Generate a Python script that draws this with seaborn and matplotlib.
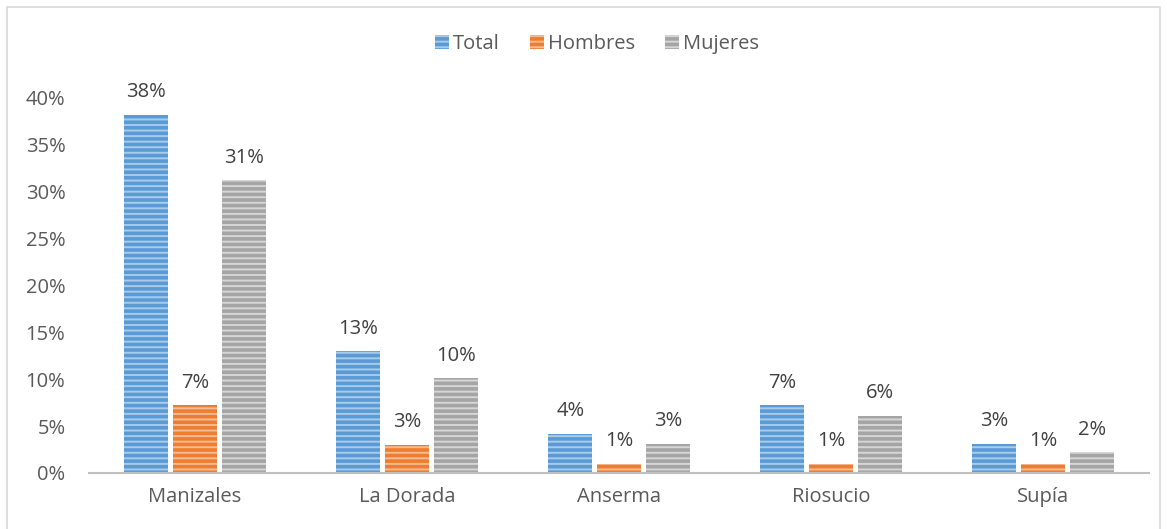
import matplotlib
matplotlib.use("Agg")
import matplotlib.pyplot as plt
import seaborn as sns
import pandas as pd
from matplotlib.patches import Rectangle, Patch

categories = ["Manizales", "La Dorada", "Anserma", "Riosucio", "Supía"]
series = ["Total", "Hombres", "Mujeres"]
total = [38.2, 13.0, 4.2, 7.2, 3.1]
hombres = [7.2, 3.0, 1.0, 1.0, 1.0]
mujeres = [31.2, 10.1, 3.1, 6.1, 2.2]
labels_total = ["38%", "13%", "4%", "7%", "3%"]
labels_hombres = ["7%", "3%", "1%", "1%", "1%"]
labels_mujeres = ["31%", "10%", "3%", "6%", "2%"]
yticks = [0, 5, 10, 15, 20, 25, 30, 35, 40]

colors = ["#5B9BD5", "#ED7D31", "#A5A5A5"]
light = ["#A9CBEA", "#F6BC95", "#D6D6D6"]

rows = []
for s, vals in zip(series, [total, hombres, mujeres]):
    for c, v in zip(categories, vals):
        rows.append({"cat": c, "serie": s, "val": v})
df = pd.DataFrame(rows)

sns.set_theme(style="white")
plt.rcParams['font.family'] = ['Open Sans', 'DejaVu Sans']
plt.rcParams['hatch.linewidth'] = 1.4

fig = plt.figure(figsize=(11.67, 5.29), dpi=100)
ax = fig.add_axes([89/1167, 0.106, (1149-89)/1167, 0.709])

sns.barplot(data=df, x="cat", y="val", hue="serie", order=categories,
            hue_order=series, palette=colors, width=0.69, gap=0.1,
            ax=ax, legend=False, errorbar=None, saturation=1)

all_labels = [labels_total, labels_hombres, labels_mujeres]
for i, cont in enumerate(ax.containers):
    for bar in cont:
        bar.set_hatch("---")
        bar.set_edgecolor(light[i])
        bar.set_linewidth(0)
    ax.bar_label(cont, labels=all_labels[i], padding=9, fontsize=14.5, color="#404040")

ax.set_ylim(0, 40)
ax.set_yticks(yticks)
ax.set_yticklabels([f"{t}%" for t in yticks], fontsize=14.5, color="#595959")
ax.set_xlim(-0.5, 4.5)
ax.tick_params(axis="x", labelsize=14.5, labelcolor="#595959", length=0, pad=10)
ax.tick_params(axis="y", length=0, pad=17)
ax.set_xlabel("")
ax.set_ylabel("")
for s in ["top", "right", "left"]:
    ax.spines[s].set_visible(False)
ax.spines["bottom"].set_color("#BFBFBF")
ax.spines["bottom"].set_linewidth(1.5)

handles = [Patch(facecolor=colors[i], edgecolor=light[i], hatch="---", linewidth=0) for i in range(3)]
fig.legend(handles, series, loc="center", bbox_to_anchor=(597/1167, 1 - 44/529), ncol=3,
           frameon=False, fontsize=14.5, labelcolor="#595959", handlelength=0.7,
           handleheight=0.7, handletextpad=0.2, columnspacing=1.5)

fig.add_artist(Rectangle((7/1167, -0.01), (1160-7)/1167, 1 - 7/529 + 0.01,
                         transform=fig.transFigure, fill=False,
                         edgecolor="#D9D9D9", linewidth=1.2))

fig.savefig("out.png", dpi=100)
